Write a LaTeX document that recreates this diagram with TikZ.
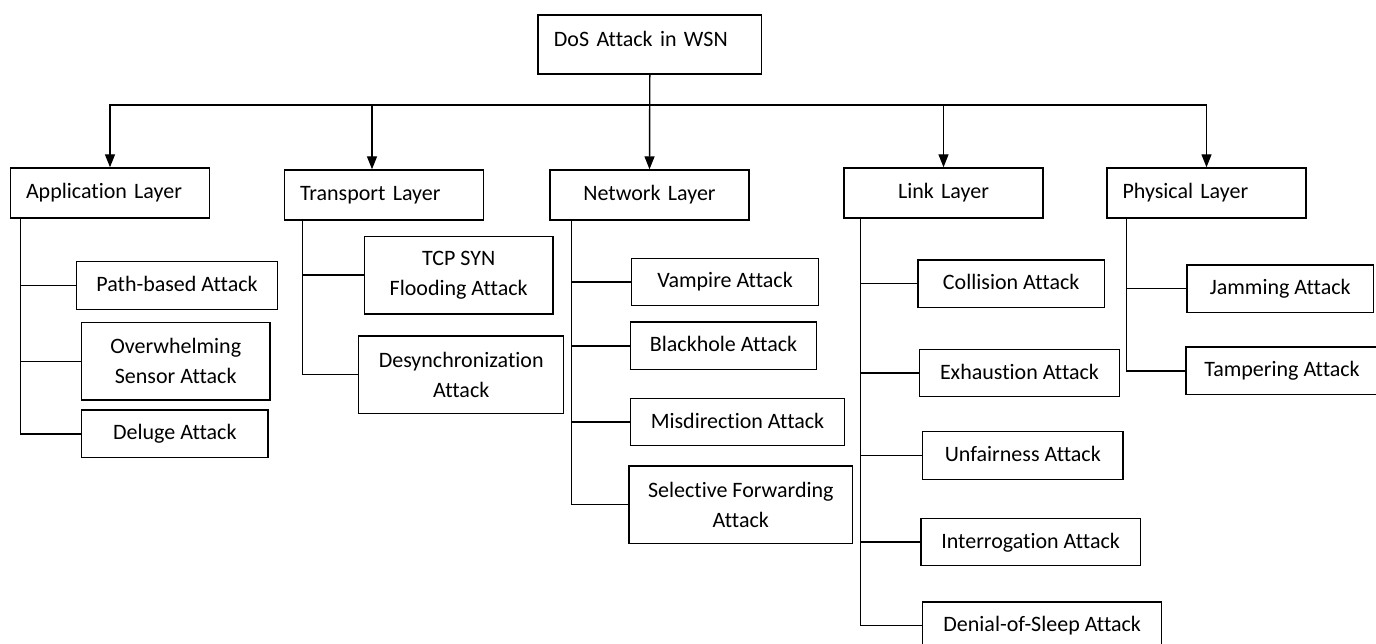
\documentclass[tikz,border=0pt]{standalone}
\usepackage{fontspec}
\setmainfont{Carlito}[Ligatures=NoCommon]
\usepackage{tikz}
\usetikzlibrary{arrows.meta}
\newcommand{\attfont}{\fontsize{22pt}{30pt}\selectfont}
\tikzstyle{box}=[rectangle, draw=black, line width=1.4pt, inner sep=0pt, font=\attfont, align=center, anchor=center]
\tikzstyle{layer}=[box, minimum height=50pt, text height=16pt, text depth=4pt, inner xsep=15.5pt, text width=168pt, align=left]
\tikzstyle{atk}=[box, minimum height=47.5pt, text height=16pt, text depth=4pt]
\tikzstyle{atktwo}=[box, minimum height=77.5pt]
\tikzstyle{wire}=[line width=1.4pt]
\tikzstyle{arr}=[wire, -{Triangle[width=10pt,length=13pt]}]

\begin{document}
\begin{tikzpicture}[x=1pt, y=-1pt]
	\useasboundingbox (0,0) rectangle (1376,644);

	\node[box, text width=191.7pt, inner xsep=16pt, inner ysep=8pt, text height=24pt, text depth=19pt, align=left](root) at (649.8,44.5){DoS Attack in WSN};

	\node[layer](app) at (110,193){Application Layer};
	\node[layer](trans) at (384,195){Transport Layer};
	\node[layer, align=center](net) at (649.5,195){Network Layer};
	\node[layer, align=center](link) at (943.5,193){Link Layer};
	\node[layer](phys) at (1206.5,193){Physical Layer};

	\node[atk, minimum width=201pt](pba) at (177,285.5){Path-based Attack};
	\node[atktwo, minimum width=188.3pt](ows) at (175.7,361.2){Overwhelming\\Sensor Attack};
	\node[atk, minimum width=186.5pt](dlg) at (174.8,433.9){Deluge Attack};

	\node[atktwo, minimum width=188.7pt](tcp) at (458.7,275.2){TCP SYN\\Flooding Attack};
	\node[atktwo, minimum width=205.1pt](desync) at (461.2,374.7){Desynchronization\\Attack};

	\node[atk, minimum width=186.6pt](vamp) at (725,282){Vampire Attack};
	\node[atk, minimum width=186.4pt](bh) at (723.5,345.8){Blackhole Attack};
	\node[atk, minimum width=214.4pt](mis) at (737.5,422){Misdirection Attack};
	\node[atktwo, minimum width=223.7pt](sf) at (740.8,504.7){Selective Forwarding\\Attack};

	\node[atk, minimum width=186.3pt](col) at (1011.2,283.7){Collision Attack};
	\node[atk, minimum width=200.4pt](exh) at (1019.5,373){Exhaustion Attack};
	\node[atk, minimum width=200.3pt](unf) at (1022.8,455.5){Unfairness Attack};
	\node[atk, minimum width=219.2pt](int) at (1030.6,542){Interrogation Attack};
	\node[atk, minimum width=239pt](dos) at (1042.2,625.7){Denial-of-Sleep Attack};

	\node[atk, minimum width=186.3pt](jam) at (1280.2,288.7){Jamming Attack};
	\node[atk, minimum width=192pt](tamp) at (1282,370.8){Tampering Attack};

	\coordinate (bus) at (649.8,105);
	\draw[arr] (root.south) -- (net.north);
	\draw[arr] (bus) -| (app.north);
	\draw[arr] (bus) -| ([xshift=-12pt]trans.north);
	\draw[arr] (bus) -| (link.north);
	\draw[arr] (bus) -| (phys.north);

	\draw[wire] ([xshift=10.8pt]app.south west) |- (pba.west) ([xshift=10.8pt]app.south west) |- (ows.west) ([xshift=10.8pt]app.south west) |- (dlg.west);
	\draw[wire] ([xshift=18.5pt]trans.south west) |- (tcp.west) ([xshift=18.5pt]trans.south west) |- (desync.west);
	\draw[wire] ([xshift=22.3pt]net.south west) |- (vamp.west) ([xshift=22.3pt]net.south west) |- (bh.west) ([xshift=22.3pt]net.south west) |- (mis.west) ([xshift=22.3pt]net.south west) |- (sf.west);
	\draw[wire] ([xshift=17.2pt]link.south west) |- (col.west) ([xshift=17.2pt]link.south west) |- (exh.west) ([xshift=17.2pt]link.south west) |- (unf.west) ([xshift=17.2pt]link.south west) |- (int.west) ([xshift=17.2pt]link.south west) |- (dos.west);
	\draw[wire] ([xshift=20.2pt]phys.south west) |- (jam.west) ([xshift=20.2pt]phys.south west) |- (tamp.west);

\end{tikzpicture}
\end{document}
